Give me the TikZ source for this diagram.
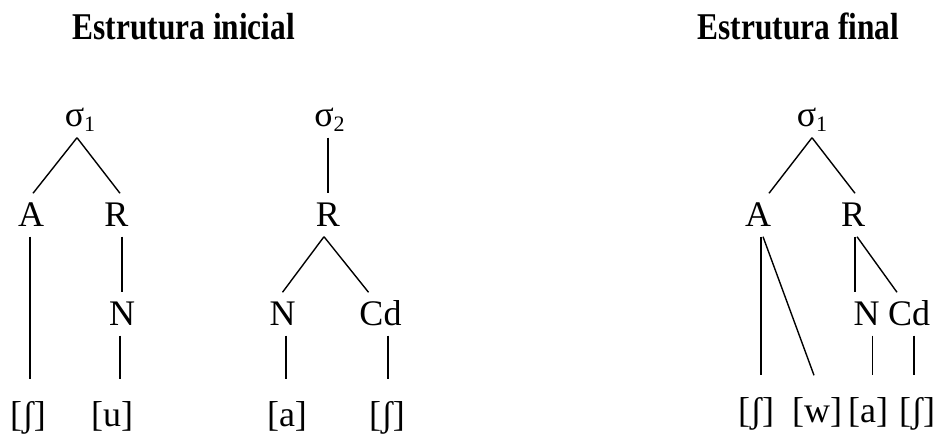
\documentclass[tikz,border=0pt]{standalone}
\usepackage{fontspec}
\setmainfont{Liberation Serif}
\usepackage{graphicx}
\begin{document}
\begin{tikzpicture}[x=1pt,y=-1pt,
  line width=1.4pt,
  ttl/.style={anchor=base west,inner sep=0pt,font=\fontsize{37.8}{40}\selectfont\bfseries},
  sig/.style={anchor=base,inner xsep=0pt,inner ysep=5pt,text height=17pt,text depth=5pt,font=\fontsize{36}{40}\selectfont},
  lab/.style={anchor=base,inner xsep=0pt,inner ysep=9pt,text height=24pt,text depth=0pt,font=\fontsize{36}{40}\selectfont},
  seg/.style={anchor=base,inner xsep=0pt,inner ysep=22pt,text height=25pt,text depth=7pt,font=\fontsize{36}{40}\selectfont}
]
\useasboundingbox (0,0) rectangle (935,435);
\newcommand{\sg}[1]{σ\raisebox{-5pt}{\fontsize{22}{22}\selectfont #1}}
% titles
\node[ttl] (t1) at (72,40) {\scalebox{0.83}[1]{Estrutura inicial}};
\node[ttl] (t2) at (697,40) {\scalebox{0.83}[1]{Estrutura final}};
% tree 1
\node[sig] (s1) at (80,127) {\sg{1}};
\node[lab] (A1) at (31,227) {A};
\node[lab] (R1) at (116.5,227) {R};
\node[lab] (N1) at (122,326) {N};
\node[seg] (b1) at (28,427) {[ʃ]};
\node[seg] (u1) at (112,427) {[u]};
\draw ([xshift=-3pt]s1.south) -- ([xshift=2pt]A1.north);
\draw ([xshift=-3pt]s1.south) -- ([xshift=3.5pt]R1.north);
\draw ([xshift=-1pt]A1.south) -- ([xshift=-1pt]A1.south |- b1.north);
\draw (N1.north |- R1.south) -- (N1.north);
\draw ([xshift=-2pt]N1.south) -- ([xshift=-2pt]N1.south |- u1.north);
% tree 2
\node[sig] (s2) at (329.5,127) {\sg{2}};
\node[lab] (R2) at (328,227) {R};
\node[lab] (N2) at (282.5,326) {N};
\node[lab] (Cd2) at (380.5,326) {Cd};
\node[seg] (a2) at (287,427) {[a]};
\node[seg] (b2) at (387,427) {[ʃ]};
\draw (R2.north |- s2.south) -- (R2.north);
\draw ([xshift=-4pt]R2.south) -- (N2.north);
\draw ([xshift=-4pt]R2.south) -- ([xshift=-12pt]Cd2.north);
\draw ([xshift=3.5pt]N2.south) -- ([xshift=3.5pt]N2.south |- a2.north);
\draw ([xshift=7.5pt]Cd2.south) -- ([xshift=7.5pt]Cd2.south |- b2.north);
% tree 3
\node[sig] (s3) at (812,127) {\sg{1}};
\node[lab] (A3) at (758,227) {A};
\node[lab] (R3) at (853,227) {R};
\node[lab] (N3) at (866.5,326) {N};
\node[lab] (Cd3) at (909,326) {Cd};
\node[seg] (e3) at (756,423) {[ʃ]};
\node[seg] (w3) at (817,423) {[w]};
\node[seg] (a3) at (868,423) {[a]};
\node[seg] (f3) at (917,423) {[ʃ]};
\draw (s3.south) -- ([xshift=11pt]A3.north);
\draw (s3.south) -- ([xshift=2pt]R3.north);
\draw ([xshift=3pt]A3.south) -- ([xshift=3pt]A3.south |- e3.north);
\draw ([xshift=5pt]A3.south) -- ([xshift=-3pt]w3.north);
\draw ([xshift=2pt]R3.south) -- ([xshift=2pt]R3.south |- N3.north);
\draw ([xshift=4pt]R3.south) -- ([xshift=-12pt]Cd3.north);
\draw ([xshift=6pt]N3.south) -- ([xshift=6pt]N3.south |- a3.north);
\draw ([xshift=5pt]Cd3.south) -- ([xshift=5pt]Cd3.south |- f3.north);
\end{tikzpicture}
\end{document}
